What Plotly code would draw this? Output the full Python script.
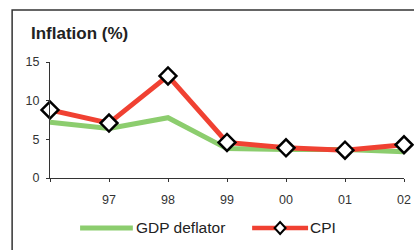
import plotly.graph_objects as go

years = ["96", "97", "98", "99", "00", "01", "02"]
tick_labels = ["", "97", "98", "99", "00", "01", "02"]
gdp_deflator = [7.2, 6.4, 7.8, 3.8, 3.7, 3.7, 3.4]
cpi = [8.8, 7.1, 13.2, 4.6, 3.9, 3.6, 4.3]
y_ticks = [0, 5, 10, 15]
series_names = ["GDP deflator", "CPI"]

GREEN = "rgb(140,205,110)"
RED = "rgb(240,65,50)"

xpos = list(range(len(years)))

fig = go.Figure()
fig.add_trace(go.Scatter(x=xpos, y=gdp_deflator, mode="lines", name=series_names[0],
                         line=dict(color=GREEN, width=5), cliponaxis=False,
                         showlegend=False))
fig.add_trace(go.Scatter(x=xpos, y=cpi, mode="lines+markers", name=series_names[1],
                         line=dict(color=RED, width=5), cliponaxis=False,
                         showlegend=False,
                         marker=dict(symbol="diamond", size=13, color="white",
                                     line=dict(color="black", width=2.5))))

axis_col = "#333333"
leg_y = -0.431
legend_shapes = [
    dict(type="line", xref="paper", yref="paper", x0=0.085, x1=0.234, y0=leg_y, y1=leg_y,
         line=dict(color=GREEN, width=5)),
    dict(type="line", xref="paper", yref="paper", x0=0.571, x1=0.729, y0=leg_y, y1=leg_y,
         line=dict(color=RED, width=4.5)),
    dict(type="path", xref="paper", yref="paper", xsizemode="pixel", ysizemode="pixel",
         xanchor=0.650, yanchor=leg_y, path="M0,-6 L5.5,0 L0,6 L-5.5,0 Z",
         fillcolor="white", line=dict(color="black", width=2)),
]
legend_texts = [
    dict(text=series_names[0], xref="paper", yref="paper", x=0.238, y=leg_y,
         xanchor="left", yanchor="middle", showarrow=False,
         font=dict(size=15.5, color="#222222")),
    dict(text=series_names[1], xref="paper", yref="paper", x=0.730, y=leg_y,
         xanchor="left", yanchor="middle", showarrow=False,
         font=dict(size=15.5, color="#222222")),
]

fig.update_layout(
    template="none",
    width=414, height=250,
    margin=dict(l=50, r=10, t=62, b=72, autoexpand=False),
    paper_bgcolor="white", plot_bgcolor="white",
    font=dict(family="Liberation Sans, Arial, sans-serif", color="#333333", size=12),
    showlegend=False,
    hovermode=False,
    xaxis=dict(range=[0, 6], tickvals=xpos, ticktext=tick_labels, showgrid=False,
               zeroline=False, showline=True, linecolor=axis_col, linewidth=1,
               ticks="outside", ticklen=3, tickcolor=axis_col, tickwidth=1,
               ticklabelstandoff=7,
               tickfont=dict(size=12.5, color="#333333"), fixedrange=True, automargin=False),
    yaxis=dict(range=[0, 15], tickvals=y_ticks, showgrid=False, zeroline=False,
               showline=True, linecolor=axis_col, linewidth=1,
               ticks="outside", ticklen=3, tickcolor=axis_col, tickwidth=1,
               ticklabelstandoff=4,
               tickfont=dict(size=12.5, color="#333333"), fixedrange=True, automargin=False),
    xaxis2=dict(overlaying="x", range=[0, 6], tickvals=xpos, showticklabels=False,
                showgrid=False, zeroline=False, ticks="inside", ticklen=3,
                tickcolor=axis_col, showline=False, anchor="y", automargin=False),
    yaxis2=dict(overlaying="y", range=[0, 15], tickvals=y_ticks, showticklabels=False,
                showgrid=False, zeroline=False, ticks="inside", ticklen=3,
                tickcolor=axis_col, showline=False, anchor="x", automargin=False),
    annotations=[dict(text="<b>Inflation (%)</b>", xref="paper", yref="paper",
                      x=-0.06, y=1.25, xanchor="left", yanchor="middle",
                      showarrow=False, font=dict(size=17, color="#222222"))] + legend_texts,
    shapes=[dict(type="rect", xref="paper", yref="paper", x0=-0.107, y0=-1.0,
                 x1=1.2, y1=1.448, line=dict(color="#333333", width=1.5),
                 fillcolor="rgba(0,0,0,0)", layer="below")] + legend_shapes,
)
fig.write_html(
    "out.html",
    config={"displayModeBar": False, "staticPlot": True},
    post_script="document.body.style.margin='0';document.body.style.overflow='hidden';",
)
